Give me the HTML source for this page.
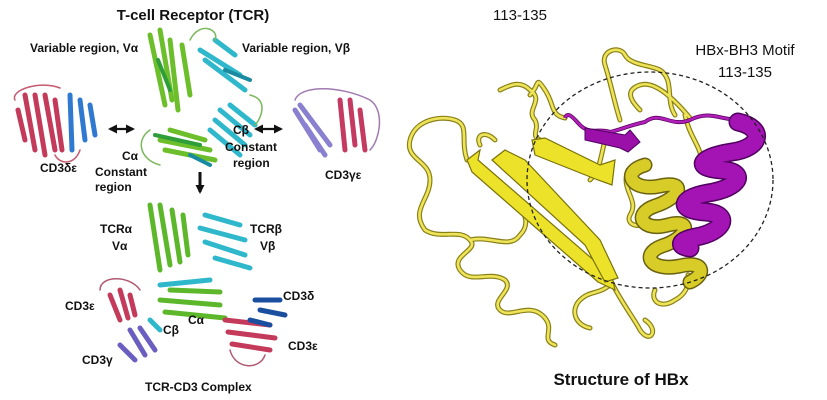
<!DOCTYPE html>
<html><head><meta charset="utf-8"><style>
html,body{margin:0;padding:0;background:#fff;width:827px;height:400px;overflow:hidden}
svg{display:block}
text{font-family:"Liberation Sans",sans-serif;font-weight:bold;fill:#111}
</style></head><body>
<svg width="827" height="400" viewBox="0 0 827 400">
<defs>
<marker id="ah" markerUnits="userSpaceOnUse" markerWidth="9" markerHeight="9" refX="7" refY="4.5" orient="auto-start-reverse"><path d="M0,0L9,4.5L0,9z" fill="#111"/></marker>
<g id="loops">
<path d="M467,160 C460,140 470,125 455,120 C440,115 415,120 410,140 C405,160 430,160 430,180 C430,200 410,210 425,230 C440,240 460,228 470,240 C480,250 450,255 460,270 C470,285 490,270 505,280 C515,290 490,300 500,310 C510,320 530,300 545,318 C555,330 540,340 555,345"/>
<path d="M470,240 C490,235 510,250 520,235 C530,225 525,215 520,205"/>
<path d="M480,145 C475,135 485,130 495,140 M500,90 C510,85 520,80 530,90 C545,100 525,110 535,120 C540,130 530,135 540,140"/>
<path d="M530,95 C540,85 535,75 545,90 C555,105 550,115 565,118"/>
<path d="M612,283 C620,300 635,320 640,330 C650,345 660,330 645,320 M612,283 C600,295 590,290 580,300 C570,310 575,325 590,328"/>
<path d="M605,140 C600,160 600,170 590,180 M620,120 C615,105 610,80 605,65 C600,50 620,45 625,55 C630,65 650,65 660,70 C675,80 665,100 675,115 M640,110 C630,100 625,90 640,85 C655,80 675,100 690,118"/>
<path d="M685,115 C690,140 705,150 700,165 M655,290 C650,300 660,310 675,300 C685,295 690,285 688,275"/>
<path d="M628,170 C620,190 640,200 630,215 C625,225 640,230 650,220"/>
</g>
<path id="yh" d="M645,165 C620,172 632,192 660,186 C688,180 680,198 655,206 C632,214 642,232 668,225 C694,218 688,238 662,246 C640,254 650,272 680,266 C705,260 706,275 690,282"/>
<path id="mh" d="M738,122 C765,128 762,148 732,152 C700,157 692,168 722,170 C748,172 740,188 708,193 C680,198 676,210 706,212 C732,214 724,232 696,237 C680,240 676,246 690,248"/>
</defs>
<g stroke-linecap="round" fill="none">
<g stroke="#6cbf2a" stroke-width="5">
<path d="M150,35 L165,105"/><path d="M160,30 L172,100"/><path d="M170,40 L178,110"/><path d="M182,45 L190,95"/>
<path d="M160,140 L210,150"/><path d="M165,150 L215,160"/><path d="M170,130 L205,140"/>
</g>
<g stroke="#2e9e3a" stroke-width="4"><path d="M155,135 L200,145"/><path d="M158,60 L170,90"/></g>
<g stroke="#2fb8cc" stroke-width="5">
<path d="M200,50 L240,75"/><path d="M205,60 L245,90"/><path d="M215,40 L235,55"/>
<path d="M215,120 L245,145"/><path d="M220,110 L250,135"/><path d="M210,130 L240,155"/><path d="M230,105 L255,125"/>
</g>
<g stroke="#1a8aa0" stroke-width="4"><path d="M225,70 L250,80"/><path d="M190,155 L210,165"/></g>
<path d="M190,40 C200,20 220,30 215,40 M250,95 C270,100 260,120 255,125 M150,130 C135,140 140,160 160,165" stroke="#7ab85a" stroke-width="1.5"/>
<g stroke="#c43a5a" stroke-width="5"><path d="M25,95 L35,150"/><path d="M35,95 L45,155"/><path d="M45,95 L55,150"/><path d="M55,100 L62,150"/><path d="M18,110 L25,140"/></g>
<g stroke="#2f7ad0" stroke-width="5"><path d="M70,95 L72,150"/><path d="M80,100 L85,140"/><path d="M90,105 L95,135"/></g>
<path d="M15,100 C10,90 40,80 60,88 M55,155 C60,165 75,165 80,150" stroke="#c45a70" stroke-width="1.5"/>
<g stroke="#8a80d0" stroke-width="5"><path d="M295,110 L320,150"/><path d="M300,105 L330,145"/><path d="M305,125 L325,155"/></g>
<g stroke="#c43a60" stroke-width="5"><path d="M340,100 L345,150"/><path d="M350,100 L355,145"/><path d="M360,110 L365,150"/></g>
<path d="M295,100 C300,85 340,85 370,100 C385,110 380,140 370,150" stroke="#a07ab0" stroke-width="1.5"/>
<g stroke="#5cb82a" stroke-width="5"><path d="M150,205 L160,270"/><path d="M160,205 L170,265"/><path d="M172,210 L180,262"/><path d="M183,215 L188,255"/>
<path d="M160,300 L220,305"/><path d="M165,312 L225,318"/><path d="M170,290 L220,292"/></g>
<g stroke="#2fb8cc" stroke-width="5"><path d="M205,215 L240,225"/><path d="M200,228 L245,240"/><path d="M205,242 L245,255"/><path d="M215,258 L250,268"/>
<path d="M160,285 L210,280"/><path d="M150,320 L160,330"/></g>
<g stroke="#c43a5a" stroke-width="5"><path d="M110,295 L120,320"/><path d="M120,290 L128,318"/><path d="M130,295 L135,315"/>
<path d="M225,320 L270,325"/><path d="M228,332 L275,338"/><path d="M232,344 L270,350"/></g>
<g stroke="#1a4fa0" stroke-width="5"><path d="M255,300 L280,300"/><path d="M260,310 L285,315"/><path d="M250,320 L270,325"/></g>
<g stroke="#6a5ec0" stroke-width="5"><path d="M130,330 L145,355"/><path d="M140,328 L155,350"/><path d="M120,345 L135,360"/></g>
<path d="M100,290 C100,275 130,275 140,290 M230,350 C235,370 260,370 265,355" stroke="#b05a70" stroke-width="1.5"/>
</g>
<line x1="110" y1="129" x2="133" y2="129" stroke="#111" stroke-width="2.2" marker-end="url(#ah)" marker-start="url(#ah)"/>
<line x1="256" y1="129" x2="281" y2="129" stroke="#111" stroke-width="2.2" marker-end="url(#ah)" marker-start="url(#ah)"/>
<line x1="200" y1="172" x2="200" y2="192" stroke="#111" stroke-width="3" marker-end="url(#ah)"/>
<text x="193" y="20" font-size="15" text-anchor="middle">T-cell Receptor (TCR)</text>
<text x="30" y="52" font-size="12">Variable region, Vα</text>
<text x="242" y="52" font-size="12">Variable region, Vβ</text>
<text x="40" y="172" font-size="12">CD3δε</text>
<text x="122" y="160" font-size="12">Cα</text>
<text x="95" y="176" font-size="12">Constant</text>
<text x="95" y="191" font-size="12">region</text>
<text x="233" y="134" font-size="12">Cβ</text>
<text x="225" y="151" font-size="12">Constant</text>
<text x="233" y="167" font-size="12">region</text>
<text x="325" y="179" font-size="12">CD3γε</text>
<text x="100" y="233" font-size="12">TCRα</text>
<text x="112" y="250" font-size="12">Vα</text>
<text x="250" y="233" font-size="12">TCRβ</text>
<text x="260" y="250" font-size="12">Vβ</text>
<text x="65" y="310" font-size="12">CD3ε</text>
<text x="283" y="300" font-size="12">CD3δ</text>
<text x="188" y="324" font-size="12">Cα</text>
<text x="163" y="334" font-size="12">Cβ</text>
<text x="288" y="350" font-size="12">CD3ε</text>
<text x="82" y="364" font-size="12">CD3γ</text>
<text x="145" y="391" font-size="12">TCR-CD3 Complex</text>
<g fill="none" stroke-linecap="round" stroke-linejoin="round">
<use href="#loops" stroke="#8a8018" stroke-width="5"/>
<use href="#loops" stroke="#eee45a" stroke-width="2.6"/>
</g>
<g fill="#ece22a" stroke="#7a720a" stroke-width="1.2">
<polygon points="467,160 480,150 478,160 612,276 615,290 598,282 472,172"/>
<polygon points="492,160 505,150 525,160 600,240 618,278 605,282 585,245"/>
<polygon points="532,140 545,138 600,165 615,160 612,185 598,180 535,155"/>
</g>
<g fill="none" stroke-linecap="round">
<use href="#yh" stroke="#6a6210" stroke-width="15"/>
<use href="#yh" stroke="#d8cd28" stroke-width="12"/>
</g>
<path d="M565,118 C568,110 575,120 580,125 C590,135 600,128 610,132 C620,130 630,125 645,122 C660,110 670,128 690,120 C710,110 720,120 740,120" fill="none" stroke="#5a0060" stroke-width="4"/>
<path d="M565,118 C568,110 575,120 580,125 C590,135 600,128 610,132 C620,130 630,125 645,122 C660,110 670,128 690,120 C710,110 720,120 740,120" fill="none" stroke="#b020b8" stroke-width="2.5"/>
<polygon points="585,128 625,135 630,130 640,142 628,152 620,148 585,140" fill="#9a10a8" stroke="#500060" stroke-width="1"/>
<g fill="none" stroke-linecap="round">
<use href="#mh" stroke="#500060" stroke-width="19"/>
<use href="#mh" stroke="#a414b4" stroke-width="16"/>
</g>
<ellipse cx="650" cy="180" rx="123" ry="108" fill="none" stroke="#222" stroke-width="1.3" stroke-dasharray="4,3"/>
<text x="520" y="20" font-size="15" text-anchor="middle" style="font-weight:normal">113-135</text>
<text x="745" y="55" font-size="15" text-anchor="middle" style="font-weight:normal">HBx-BH3 Motif</text>
<text x="745" y="77" font-size="15" text-anchor="middle" style="font-weight:normal">113-135</text>
<text x="621" y="385" font-size="17" text-anchor="middle">Structure of HBx</text>
</svg>
</body></html>
